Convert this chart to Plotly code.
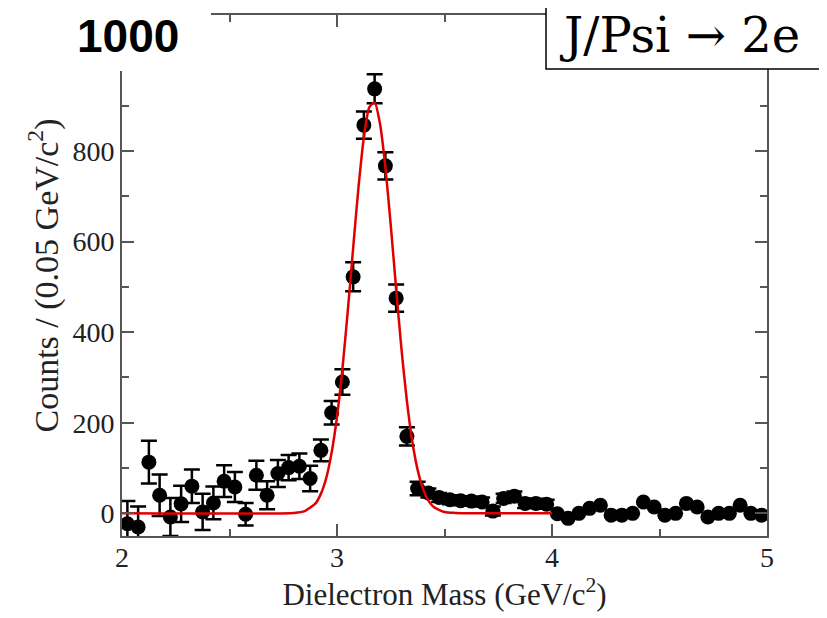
import plotly.graph_objects as go

# ---- data ----
mass = [2.025, 2.075, 2.125, 2.175, 2.225, 2.275, 2.325, 2.375, 2.425, 2.475,
        2.525, 2.575, 2.625, 2.675, 2.725, 2.775, 2.825, 2.875, 2.925, 2.975,
        3.025, 3.075, 3.125, 3.175, 3.225, 3.275, 3.325, 3.375, 3.425, 3.475,
        3.525, 3.575, 3.625, 3.675, 3.725, 3.775, 3.825, 3.875, 3.925, 3.975]
counts = [-23, -30, 113, 40, -8, 21, 60, 3, 23, 71,
          58, -2, 84, 40, 88, 101, 104, 77, 139, 222,
          290, 522, 857, 937, 767, 475, 170, 55, 45, 35,
          30, 28, 27, 25, 5, 33, 38, 22, 22, 20]
errors = [50, 45, 47, 46, 42, 40, 37, 40, 36, 35,
          33, 25, 32, 31, 30, 28, 28, 28, 24, 26,
          28, 32, 30, 32, 30, 30, 20, 15, 10, 10,
          10, 10, 10, 10, 10, 10, 10, 10, 10, 10]

mass_hi = [4.025, 4.075, 4.125, 4.175, 4.225, 4.275, 4.325, 4.375, 4.425, 4.475,
           4.525, 4.575, 4.625, 4.675, 4.725, 4.775, 4.825, 4.875, 4.925, 4.975]
counts_hi = [-1, -11, 0, 11, 18, -4, -4, 0, 25, 14,
             -4, 0, 22, 14, -8, 0, 0, 18, 0, -4]

fit_x = [2.0, 2.8, 2.85, 2.9, 2.925, 2.95, 2.975, 3.0, 3.025, 3.05, 3.075, 3.1,
         3.125, 3.15, 3.175, 3.2, 3.225, 3.25, 3.275, 3.3, 3.325, 3.35, 3.375,
         3.4, 3.425, 3.45, 3.5, 3.55, 4.0]
fit_y = [0, 1, 5, 22, 43, 78, 134, 213, 318, 446, 585, 720,
         830, 896, 907, 860, 764, 636, 496, 362, 248, 159, 96,
         54, 28, 14, 3, 1, 0]

x_ticks = [2, 3, 4, 5]
y_ticks = [0, 200, 400, 600, 800]

# ---- figure (the page adds an 8px body margin, so offsets are compensated) ----
OFF = 8
W, H = 819, 610
ML, MR, MT, MB = 114, 60, 7, 82
PW, PH = W - ML - MR, H - MT - MB


def px(x):  # screen pixel -> paper x
    return (x - OFF - ML) / PW


def py(y):  # screen pixel -> paper y
    return (H - MB - (y - OFF)) / PH


fig = go.Figure()

fig.add_trace(go.Scatter(
    x=mass, y=counts, mode="markers",
    marker=dict(color="black", size=15, symbol="circle"),
    error_y=dict(type="data", array=errors, color="black", thickness=2.5, width=8),
    showlegend=False, hoverinfo="x+y"))

fig.add_trace(go.Scatter(
    x=mass_hi, y=counts_hi, mode="markers",
    marker=dict(color="black", size=15, symbol="circle"),
    showlegend=False, hoverinfo="x+y"))

fig.add_trace(go.Scatter(
    x=fit_x, y=fit_y, mode="lines",
    line=dict(color="#e00000", width=2.5, shape="spline", smoothing=0.6),
    showlegend=False, hoverinfo="skip"))

axis_common = dict(
    showline=True, linecolor="#555555", linewidth=2, mirror="ticks",
    ticks="inside", ticklen=12, tickwidth=2, tickcolor="#555555",
    showgrid=False, zeroline=False,
    tickfont=dict(family="Liberation Serif", size=28, color="#222222"),
)

fig.update_xaxes(
    range=[2, 5], tickvals=x_ticks, ticklabelstandoff=-5,
    minor=dict(ticks="inside", ticklen=7, tickwidth=2, tickcolor="#555555", dtick=0.5),
    title_text="Dielectron Mass (GeV/c<sup>2</sup>)", title_standoff=8,
    title_font=dict(family="Liberation Serif", size=31, color="#222222"),
    **axis_common)
fig.update_yaxes(
    range=[-50, 1100], tickvals=y_ticks,
    minor=dict(ticks="inside", ticklen=7, tickwidth=2, tickcolor="#555555", dtick=100),
    title_text="Counts / (0.05 GeV/c<sup>2</sup>)", title_standoff=4,
    title_font=dict(family="Liberation Serif", size=34, color="#222222"),
    **axis_common)

fig.update_layout(
    width=W, height=H,
    margin=dict(l=ML, r=MR, t=MT, b=MB, autoexpand=False),
    paper_bgcolor="white", plot_bgcolor="white",
    shapes=[
        # white patch covering the top-left corner
        dict(type="rect", xref="paper", yref="paper", layer="above",
             x0=px(0), x1=px(211), y0=py(71), y1=py(0),
             fillcolor="white", line=dict(width=0)),
        # label box at top right
        dict(type="rect", xref="paper", yref="paper", layer="above",
             x0=px(546), x1=px(832), y0=py(69), y1=py(-4),
             fillcolor="white", line=dict(color="black", width=1.5)),
    ],
    annotations=[
        dict(text="<b>1000</b>", xref="paper", yref="paper",
             x=px(128), y=py(36), xanchor="center", yanchor="middle",
             showarrow=False,
             font=dict(family="Liberation Sans", size=46, color="black")),
        dict(text="J/Psi \u2192 2e", xref="paper", yref="paper",
             x=px(557), y=py(35), xanchor="left", yanchor="middle",
             showarrow=False,
             font=dict(family="DejaVu Serif", size=48, color="black")),
    ],
)

fig.write_html("out.html")
